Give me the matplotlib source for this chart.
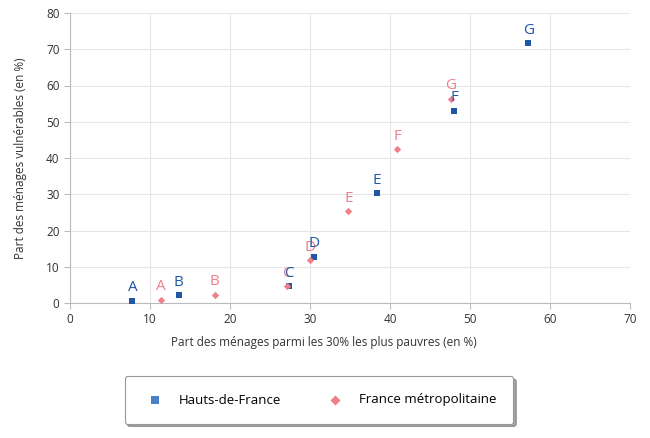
import matplotlib.pyplot as plt
import matplotlib as mpl

mpl.rcParams['font.family'] = ['Open Sans', 'DejaVu Sans']

labels = ['A', 'B', 'C', 'D', 'E', 'F', 'G']
hdf_x = [7.8, 13.6, 27.4, 30.5, 38.4, 48.0, 57.3]
hdf_y = [0.6, 2.1, 4.6, 12.8, 30.3, 53.0, 71.6]
fm_x = [11.4, 18.1, 27.1, 30.0, 34.8, 40.9, 47.6]
fm_y = [0.9, 2.2, 4.6, 11.8, 25.3, 42.4, 56.4]

blue = '#1f56a5'
pink = '#ef7f8a'

fig = plt.figure(figsize=(6.5, 4.38), dpi=100)
ax = fig.add_axes([70/650, 1 - 303/438, 560/650, 290/438])

ax.scatter(hdf_x, hdf_y, marker='s', s=24, color=blue, zorder=3, linewidths=0)
ax.scatter(fm_x, fm_y, marker='D', s=14, color=pink, zorder=3, linewidths=0)

for lab, x, y in zip(labels, fm_x, fm_y):
    ax.annotate(lab, (x, y), xytext=(0, 4), textcoords='offset points',
                ha='center', va='bottom', color=pink, fontsize=11)
for lab, x, y in zip(labels, hdf_x, hdf_y):
    ax.annotate(lab, (x, y), xytext=(0, 4), textcoords='offset points',
                ha='center', va='bottom', color=blue, fontsize=11)

ax.set_xlim(0, 70)
ax.set_ylim(0, 80)
ax.set_xticks(range(0, 71, 10))
ax.set_yticks(range(0, 81, 10))
ax.grid(True, color='#e6e6e6', lw=0.8)
ax.set_axisbelow(True)
for s in ['top', 'right']:
    ax.spines[s].set_visible(False)
for s in ['left', 'bottom']:
    ax.spines[s].set_color('#bbbbbb')
ax.tick_params(colors='#333333', labelsize=8.5, length=4, color='#bbbbbb')
ax.set_xlabel('Part des ménages parmi les 30% les plus pauvres (en %)',
              fontsize=8.5, color='#333333', labelpad=10)
ax.xaxis.set_label_coords(254/560, -0.115)
ax.set_ylabel('Part des ménages vulnérables (en %)', fontsize=8.5,
              color='#333333', labelpad=14)

h1 = ax.scatter([], [], marker='s', s=40, color='#4a7fc6', linewidths=0)
h2 = ax.scatter([], [], marker='D', s=26, color='#ef7f8a', linewidths=0)
leg = fig.legend([h1, h2], ['Hauts-de-France', 'France métropolitaine'],
                 loc='center', bbox_to_anchor=(319/650, 1 - 400/438), ncol=2,
                 fontsize=9.5, frameon=True, fancybox=True, shadow=True,
                 borderpad=1.3, columnspacing=3.1, handletextpad=0.8,
                 edgecolor='#999999')
leg.get_frame().set_linewidth(0.8)

plt.savefig('out.png', dpi=100)
